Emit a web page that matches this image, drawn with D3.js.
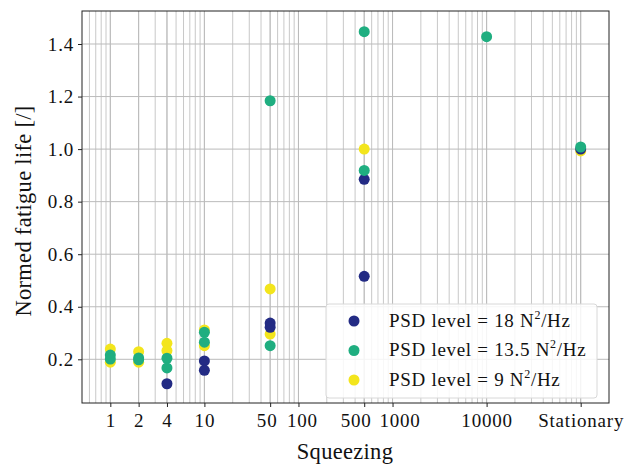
<!DOCTYPE html>
<html>
<head>
<meta charset="utf-8">
<script src="https://d3js.org/d3.v7.min.js"></script>
<style>
  body { margin: 0; background: #fff; }
  text { font-family: "Liberation Serif", "DejaVu Serif", serif; fill: #111; }
</style>
</head>
<body>
<script>
// squeezing level -> x position (Stationary is drawn at 1e5)
var tickValues = [1, 2, 4, 10, 50, 100, 500, 1000, 10000, 100000];
var tickLabels = ["1", "2", "4", "10", "50", "100", "500", "1000", "10000", "Stationary"];
var labelNudge = [0, 0, 0, 0, -3.5, 3.5, -8.5, 7, 0, 0];
var yTicks = [0.2, 0.4, 0.6, 0.8, 1.0, 1.2, 1.4];

// normed fatigue life per PSD level, [squeezing, value]
var psd18 = [[4, 0.107], [10, 0.194], [10, 0.158], [50, 0.338], [50, 0.322],
             [500, 0.885], [500, 0.516], [100000, 1.0]];
var psd135 = [[1, 0.216], [1, 0.201], [2, 0.205], [2, 0.198], [4, 0.204], [4, 0.167],
              [10, 0.303], [10, 0.265], [50, 1.184], [50, 0.252],
              [500, 1.447], [500, 0.919], [10000, 1.428], [100000, 1.008]];
var psd9 = [[1, 0.239], [1, 0.189], [2, 0.229], [2, 0.189], [4, 0.261], [4, 0.233],
            [10, 0.312], [10, 0.252], [50, 0.468], [50, 0.296],
            [500, 1.0], [100000, 0.993]];

var seriesNames = ["PSD level = 18 N", "PSD level = 13.5 N", "PSD level = 9 N"];
var colors = ["#232b84", "#1fae80", "#f3e51c"];

var W = 638, H = 464;
var m = {left: 82, top: 11, right: 609, bottom: 403};
var font = "Liberation Serif, serif";

var svg = d3.select("body").append("svg").attr("width", W).attr("height", H);

var x = d3.scaleLog().domain([0.5, 2e5]).range([m.left, m.right]);
var y = d3.scaleLinear().domain([0.0337, 1.5256]).range([m.bottom, m.top]);

// grid: major + minor on x (log), major on y
var minor = [];
for (var e = -1; e <= 5; e++) {
  for (var k = 1; k <= 9; k++) {
    var v = k * Math.pow(10, e);
    if (v > 0.5 && v < 2e5) minor.push(v);
  }
}
svg.append("g").selectAll("line").data(minor).enter().append("line")
  .attr("x1", function (d) { return x(d); }).attr("x2", function (d) { return x(d); })
  .attr("y1", m.top).attr("y2", m.bottom)
  .attr("stroke", "#c2c2c2").attr("stroke-width", 0.9);
svg.append("g").selectAll("line").data(tickValues).enter().append("line")
  .attr("x1", function (d) { return x(d); }).attr("x2", function (d) { return x(d); })
  .attr("y1", m.top).attr("y2", m.bottom)
  .attr("stroke", "#bbbbbb").attr("stroke-width", 1);
svg.append("g").selectAll("line").data(yTicks).enter().append("line")
  .attr("x1", m.left).attr("x2", m.right)
  .attr("y1", function (d) { return y(d); }).attr("y2", function (d) { return y(d); })
  .attr("stroke", "#bbbbbb").attr("stroke-width", 1);

// axes
var xAxis = d3.axisBottom(x).tickValues(tickValues)
  .tickFormat(function (d, i) { return tickLabels[i]; }).tickSize(4).tickPadding(7);
var gx = svg.append("g").attr("transform", "translate(0," + m.bottom + ")").call(xAxis);
gx.selectAll(".tick text").attr("dx", function (d, i) { return labelNudge[i]; });
var yAxis = d3.axisLeft(y).tickValues(yTicks).tickFormat(d3.format(".1f")).tickSize(4).tickPadding(4);
var gy = svg.append("g").attr("transform", "translate(" + m.left + ",0)").call(yAxis);
[gx, gy].forEach(function (g) {
  g.select(".domain").remove();
  g.selectAll("line").attr("stroke", "#222");
  g.selectAll("text").style("font-family", font).style("font-size", "19px")
    .style("letter-spacing", "0.8px").attr("fill", "#111");
});

// frame
svg.append("rect").attr("x", m.left).attr("y", m.top)
  .attr("width", m.right - m.left).attr("height", m.bottom - m.top)
  .attr("fill", "none").attr("stroke", "#222").attr("stroke-width", 1);

// points
var drawOrder = [[psd9, 2], [psd18, 0], [psd135, 1]];
drawOrder.forEach(function (s) {
  svg.append("g").selectAll("circle").data(s[0]).enter().append("circle")
    .attr("cx", function (d) { return x(d[0]); })
    .attr("cy", function (d) { return y(d[1]); })
    .attr("r", 5.5)
    .attr("fill", colors[s[1]]);
});

// axis titles
svg.append("text").attr("x", 345).attr("y", 459)
  .attr("text-anchor", "middle").style("font-size", "22.5px").style("letter-spacing", "0.3px").text("Squeezing");
svg.append("text").attr("transform", "translate(31,211) rotate(-90)")
  .attr("text-anchor", "middle").style("font-size", "22.5px").style("letter-spacing", "0.3px")
  .text("Normed fatigue life [/]");

// legend
var lg = svg.append("g").attr("transform", "translate(326,304)");
lg.append("rect").attr("width", 271).attr("height", 94).attr("rx", 3)
  .attr("fill", "#fff").attr("fill-opacity", 0.85).attr("stroke", "#d8d8d8");
seriesNames.forEach(function (name, i) {
  var row = lg.append("g").attr("transform", "translate(0," + (17 + i * 29.5) + ")");
  row.append("circle").attr("cx", 28).attr("cy", 0).attr("r", 5.5).attr("fill", colors[i]);
  var t = row.append("text").attr("x", 63).attr("y", 5.5)
    .style("font-size", "19px").style("letter-spacing", "0.7px");
  t.append("tspan").text(name);
  t.append("tspan").attr("dy", -8).style("font-size", "12px").text("2");
  t.append("tspan").attr("dy", 8).text("/Hz");
});
</script>
</body>
</html>
